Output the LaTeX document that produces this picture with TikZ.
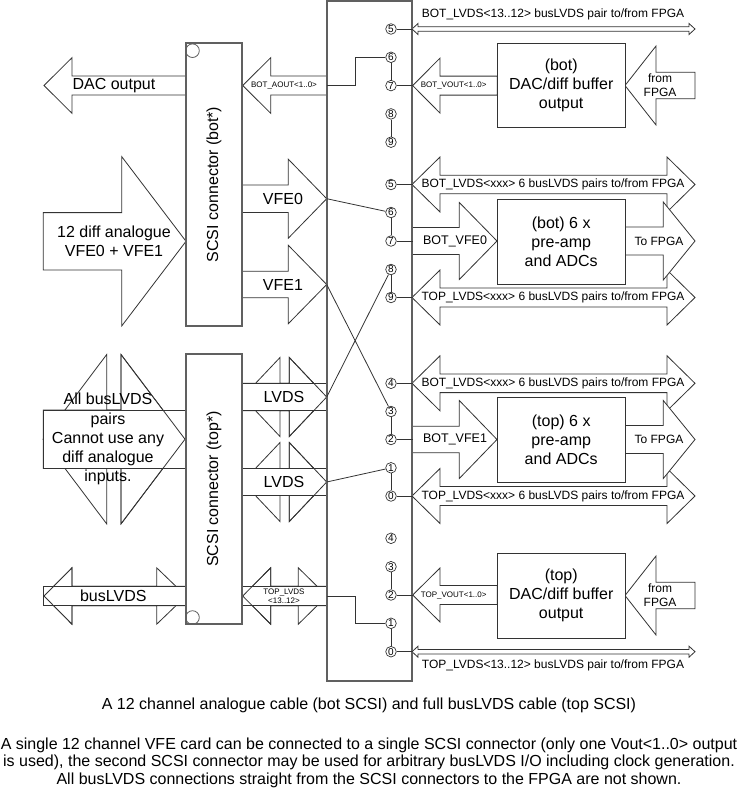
\documentclass[tikz,border=0pt]{standalone}
\usepackage{fontspec}
\setmainfont{Liberation Sans}
\definecolor{bdgray}{RGB}{96,96,96}
% block arrow: [style] shaft end, head base, tip, y, half shaft, half head
\newcommand{\blockarrow}[7][blk]{\draw[#1] (#2,#5-#6) -- (#3,#5-#6) -- (#3,#5-#7) -- (#4,#5) -- (#3,#5+#7) -- (#3,#5+#6) -- (#2,#5+#6) -- cycle;}
% double arrow: left tip, left base, right base, right tip, y, half shaft, half head
\newcommand{\dblarrow}[7]{\draw[blk] (#1,#5) -- (#2,#5-#7) -- (#2,#5-#6) -- (#3,#5-#6) -- (#3,#5-#7) -- (#4,#5) -- (#3,#5+#7) -- (#3,#5+#6) -- (#2,#5+#6) -- (#2,#5+#7) -- cycle;}

\begin{document}
\begin{tikzpicture}[x=1pt,y=-1pt,
    blk/.style={draw=black!80,fill=white,line width=0.8pt},
    blkopen/.style={draw=black!80,line width=0.8pt},
    brd/.style={draw=bdgray,line width=1.6pt},
    conn/.style={draw=bdgray,fill=white,line width=1.2pt,inner sep=0pt,minimum width=56pt},
    box/.style={draw=black!80,fill=white,line width=0.8pt,inner sep=0pt,minimum width=127.7pt,align=center,font=\fontsize{16}{19}\selectfont},
    pinc/.style={circle,draw=black!80,fill=white,line width=0.7pt,minimum size=10.6pt,inner sep=0pt,font=\fontsize{10}{10}\selectfont},
    wire/.style={draw=black!80,line width=0.8pt},
    lblbig/.style={inner sep=0pt,align=center,font=\fontsize{16}{19}\selectfont},
    lblmid/.style={inner sep=0pt,align=center,font=\fontsize{12}{13.7}\selectfont},
    lbltiny/.style={inner sep=0pt,align=center,font=\fontsize{8}{9.3}\selectfont},
    lblcap/.style={inner sep=0pt,align=center,font=\fontsize{16}{17.5}\selectfont}]
    % \draw[help lines, gray] (0,0) grid[step=50] (738,792);
    \useasboundingbox (0,0) rectangle (738,792);

    \dblarrow{412}{418}{689}{695}{29}{2.3}{5.5}
    \dblarrow{412}{440}{667}{695}{184.5}{9.3}{27.5}
    \dblarrow{412}{440}{667}{695}{297.5}{9.5}{27.5}
    \dblarrow{412}{440}{667}{695}{383.3}{9.3}{27.5}
    \dblarrow{412}{440}{667}{695}{496}{9.5}{27.5}
    \dblarrow{412}{418}{689}{695}{651.7}{2.3}{5.5}
    \blockarrow{497.3}{440}{412.7}{85.6}{9.5}{27.5}
    \blockarrow{695}{656}{625}{85.5}{13.3}{39.5}
    \blockarrow{412}{459.3}{497}{241}{13.5}{38.5}
    \blockarrow{625}{663.3}{695}{241}{14}{39}
    \blockarrow{412}{459.3}{497}{439.5}{13.3}{39}
    \blockarrow{625}{663.3}{695}{439.5}{14}{39}
    \blockarrow{497.3}{440}{412.7}{595}{9.5}{27}
    \blockarrow{695}{656}{625}{595.5}{13.3}{39.5}

    \blockarrow{186}{72}{44}{85.5}{9.5}{27.8}
    \blockarrow{327}{270.7}{242.7}{85.5}{9.5}{27.8}
    \blockarrow{43.3}{121.7}{186}{241.3}{28.7}{84.7}
    \blockarrow{242}{288.3}{326.7}{198.7}{13.7}{39.5}
    \blockarrow{242}{288.3}{326.7}{284.5}{13.3}{39.2}
    \dblarrow{43}{106.7}{121}{185}{439.2}{29.2}{84.7}
    \draw[blk] (43.3,410) rectangle (185,468.3);
    \blockarrow[blkopen]{43.3}{121}{185}{439.2}{29.2}{84.7}
    \dblarrow{242.6}{280}{289.3}{326.7}{397}{13.7}{39.5}
    \draw[blk] (242,383.3) rectangle (326.7,410.7);
    \blockarrow[blkopen]{242}{289.3}{326.7}{397}{13.7}{39.5}
    \dblarrow{242.6}{280}{289.3}{326.7}{482}{13.5}{39.5}
    \draw[blk] (242,468.5) rectangle (326.7,495.5);
    \blockarrow[blkopen]{242}{289.3}{326.7}{482}{13.5}{39.5}
    \dblarrow{44}{72}{156.7}{186}{596}{9.8}{28.2}
    \draw[blk] (43.3,586) rectangle (186,605.7);
    \blockarrow[blkopen]{186}{72}{44}{596}{9.8}{28.2}
    \dblarrow{242.7}{270.7}{298.3}{327}{596}{9.8}{28.2}
    \draw[blk] (242.7,586) rectangle (327,605.7);
    \blockarrow[blkopen]{327}{270.7}{242.7}{596}{9.8}{28.2}

    \node[conn,minimum height=283pt] (scsibot) at (214,184.5) {};
    \node[conn,minimum height=270pt] (scsitop) at (214,489) {};
    \node[circle,draw=bdgray,line width=0.8pt,minimum size=13.6pt,inner sep=0pt] (botdot) at (192.5,50.7) {};
    \node[circle,draw=bdgray,line width=0.8pt,minimum size=13.6pt,inner sep=0pt] (topdot) at (192.5,617.5) {};
    \node[lblbig,rotate=90] (scsibotlbl) at (scsibot) {SCSI connector (bot*)};
    \node[lblbig,rotate=90] (scsitoplbl) at (scsitop) {SCSI connector (top*)};

    \node[box,minimum height=84.4pt] (dacbot) at (561.2,85.5) {(bot)\\DAC/diff buffer\\output};
    \node[box,minimum height=84.7pt] (adcbot) at (561.2,241.7) {(bot) 6 x\\pre-amp\\and ADCs};
    \node[box,minimum height=84.6pt] (adctop) at (561.2,440) {(top) 6 x\\pre-amp\\and ADCs};
    \node[box,minimum height=85pt] (dactop) at (561.2,595.8) {(top)\\DAC/diff buffer\\output};

    \node[brd,minimum width=85pt,minimum height=680pt,inner sep=0pt] (board) at (369.5,341) {};

    \node[pinc] (t5) at (391,29) {5};
    \node[pinc] (t6) at (391,57.3) {6};
    \node[pinc] (t7) at (391,85.6) {7};
    \node[pinc] (t8) at (391,113.9) {8};
    \node[pinc] (t9) at (391,142.2) {9};
    \node[pinc] (m5) at (391,184.5) {5};
    \node[pinc] (m6) at (391,212.5) {6};
    \node[pinc] (m7) at (391,241) {7};
    \node[pinc] (m8) at (391,269.5) {8};
    \node[pinc] (m9) at (391,297.5) {9};
    \node[pinc] (l4) at (391,383.3) {4};
    \node[pinc] (l3) at (391,411.5) {3};
    \node[pinc] (l2) at (391,439.5) {2};
    \node[pinc] (l1) at (391,467.8) {1};
    \node[pinc] (l0) at (391,496) {0};
    \node[pinc] (b4) at (391,538.3) {4};
    \node[pinc] (b3) at (391,566.7) {3};
    \node[pinc] (b2) at (391,595) {2};
    \node[pinc] (b1) at (391,623.3) {1};
    \node[pinc] (b0) at (391,651.7) {0};

    \draw[wire] (t6) -- (t7);
    \draw[wire] (t8) -- (t9);
    \draw[wire] (m6) -- (m7);
    \draw[wire] (m8) -- (m9);
    \draw[wire] (l3) -- (l2);
    \draw[wire] (l1) -- (l0);
    \draw[wire] (b3) -- (b2);
    \draw[wire] (b1) -- (b0);
    \draw[wire] (t5) -- (t5 -| board.east);
    \draw[wire] (t7) -- (t7 -| board.east);
    \draw[wire] (m5) -- (m5 -| board.east);
    \draw[wire] (m7) -- (m7 -| board.east);
    \draw[wire] (m9) -- (m9 -| board.east);
    \draw[wire] (l4) -- (l4 -| board.east);
    \draw[wire] (l2) -- (l2 -| board.east);
    \draw[wire] (l0) -- (l0 -| board.east);
    \draw[wire] (b2) -- (b2 -| board.east);
    \draw[wire] (b0) -- (b0 -| board.east);

    \coordinate (aoutend) at (327,85.5);
    \coordinate (tlvdsend) at (327,596);
    \coordinate (vfe0tip) at (326.7,198.7);
    \coordinate (vfe1tip) at (326.7,284.5);
    \coordinate (lvdsatip) at (326.7,397);
    \coordinate (lvdsbtip) at (326.7,482);
    \draw[wire] (aoutend) -- ++(28.7,0) |- (t6);
    \draw[wire] (tlvdsend) -- ++(28.7,0) |- (b1);
    \draw[wire] (vfe0tip) -- (m6);
    \draw[wire] (vfe1tip) -- (l3);
    \draw[wire] (lvdsatip) -- (m8);
    \draw[wire] (lvdsbtip) -- (l1);

    \node[lblbig] (dacout) at (114,85.5) {DAC output};
    \node[lbltiny] (aout) at (284,85.5) {BOT\_AOUT<1..0>};
    \node[lblbig] (anain) at (114,241.3) {12 diff analogue\\VFE0 + VFE1};
    \node[lblbig] (vfe0) at (283,198.7) {VFE0};
    \node[lblbig] (vfe1) at (283,284.5) {VFE1};
    \node[lblbig,font=\fontsize{16}{19.3}\selectfont] (allbus) at (108,439.2) {All busLVDS\\pairs\\Cannot use any\\diff analogue\\inputs.};
    \node[lblbig] (lvdsa) at (284,397) {LVDS};
    \node[lblbig] (lvdsb) at (284,482) {LVDS};
    \node[lblbig] (buslvds) at (113.3,596) {busLVDS};
    \node[lbltiny] (tlvds) at (284,596) {TOP\_LVDS\\<13..12>};

    \node[lblmid] (bpair) at (553,14.3) {BOT\_LVDS<13..12> busLVDS pair to/from FPGA};
    \node[lbltiny] (vout) at (453.7,85.6) {BOT\_VOUT<1..0>};
    \node[lblmid] (from1) at (660,85.5) {from\\FPGA};
    \node[lblmid] (blvds1) at (553,184.5) {BOT\_LVDS<xxx> 6 busLVDS pairs to/from FPGA};
    \node[lblmid,font=\fontsize{12.5}{14}\selectfont] (bvfe0) at (455,241) {BOT\_VFE0};
    \node[lblmid] (tofpga1) at (659,241) {To FPGA};
    \node[lblmid] (tlvds1) at (553,297.5) {TOP\_LVDS<xxx> 6 busLVDS pairs to/from FPGA};
    \node[lblmid] (blvds2) at (553,383.3) {BOT\_LVDS<xxx> 6 busLVDS pairs to/from FPGA};
    \node[lblmid,font=\fontsize{12.5}{14}\selectfont] (bvfe1) at (455,439.5) {BOT\_VFE1};
    \node[lblmid] (tofpga2) at (659,439.5) {To FPGA};
    \node[lblmid] (tlvds2) at (553,496) {TOP\_LVDS<xxx> 6 busLVDS pairs to/from FPGA};
    \node[lbltiny] (tvout) at (453.7,595) {TOP\_VOUT<1..0>};
    \node[lblmid] (from2) at (660,595.5) {from\\FPGA};
    \node[lblmid] (tpair) at (553,665.7) {TOP\_LVDS<13..12> busLVDS pair to/from FPGA};

    \node[lblcap] (cap1) at (369,705) {A 12 channel analogue cable (bot SCSI) and full busLVDS cable (top SCSI)};
    \node[lblcap] (cap2) at (369,762.5) {A single 12 channel VFE card can be connected to a single SCSI connector (only one Vout<1..0> output\\is used), the second SCSI connector may be used for arbitrary busLVDS I/O including clock generation.\\All busLVDS connections straight from the SCSI connectors to the FPGA are not shown.};
\end{tikzpicture}
\end{document}
